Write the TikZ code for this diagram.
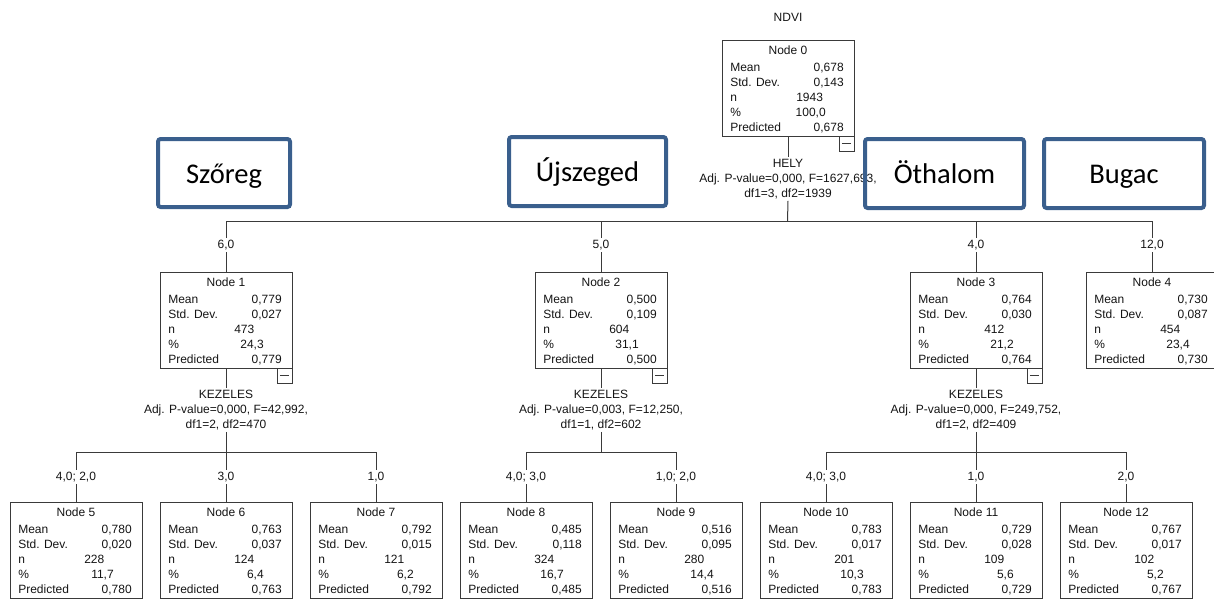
\documentclass[tikz,border=0pt]{standalone}
\usepackage{fontspec}
\setmainfont{Liberation Sans}
\newfontfamily\sitefont{Carlito}
\usetikzlibrary{calc}
\definecolor{siteblue}{HTML}{3A5F8D}
\definecolor{treeline}{HTML}{3A3A3A}

% one SPSS tree node: name, left, top, title, mean, sd, n, percent, predicted
\newcommand{\statnode}[9]{%
  \node[nodebox, anchor=north west] (#1) at (#2,#3) {};
  \node[celltext, anchor=base] (#1title) at ($(#1.north)+(0,14)$) {#4};
  \node[celltext, anchor=base west] (#1meanl) at ($(#1.north west)+(8,31)$) {Mean};
  \node[celltext, anchor=base east] (#1meanv) at ($(#1.north west)+(122,31)$) {#5};
  \node[celltext, anchor=base west] (#1sdl) at ($(#1.north west)+(8,46)$) {Std. Dev.};
  \node[celltext, anchor=base east] (#1sdv) at ($(#1.north west)+(122,46)$) {#6};
  \node[celltext, anchor=base west] (#1nl) at ($(#1.north west)+(8,61)$) {n};
  \node[celltext, anchor=base west] (#1nv) at ($(#1.north west)+(74,61)$) {#7};
  \node[celltext, anchor=base west] (#1pl) at ($(#1.north west)+(8,76)$) {\%};
  \node[celltext, anchor=base east] (#1pv) at ($(#1.north west)+(104,76)$) {#8};
  \node[celltext, anchor=base west] (#1predl) at ($(#1.north west)+(8,91)$) {Predicted};
  \node[celltext, anchor=base east] (#1predv) at ($(#1.north west)+(122,91)$) {#9};
}

\begin{document}
\begin{tikzpicture}[
    x=0.75pt, y=-0.75pt,
    nodebox/.style={draw=treeline, line width=0.75pt, minimum width=99pt,
      minimum height=72pt, inner sep=0pt, outer sep=0pt},
    celltext/.style={font=\fontsize{9}{11}\selectfont, text=black!92, inner sep=0pt},
    splittext/.style={font=\fontsize{9}{11}\selectfont, text=black!92, align=center, inner sep=1.5pt},
    catlabel/.style={font=\fontsize{9}{11}\selectfont, text=black!92, inner sep=1.5pt},
    collapse/.style={draw=treeline, line width=0.75pt, minimum size=11.25pt, inner sep=0pt,
      outer sep=0pt, anchor=north east,
      path picture={\draw[treeline, line width=0.75pt]
        ([xshift=2.2pt]path picture bounding box.west) -- ([xshift=-2.2pt]path picture bounding box.east);}},
    branch/.style={draw=treeline, line width=0.75pt},
    sitebox/.style={draw=siteblue, line width=3pt, rounded corners=2pt, inner sep=0pt,
      text height=19pt, text depth=4pt,
      font=\sitefont\fontsize{21.4}{24}\selectfont, text=black}
  ]

  \useasboundingbox (0,0) rectangle (1214,601);
  \clip (0,0) rectangle (1214,601);

  % ==========================================
  % ROOT: Node 0, split on HELY
  % ==========================================
  \node[celltext] (target) at (788,17) {NDVI};
  \statnode{n0}{722}{40}{Node 0}{0,678}{0,143}{1943}{100,0}{0,678}
  \node[collapse] (n0c) at (n0.south east) {};
  \node[splittext] (n0split) at ($(n0.south)+(0,43)$)
    {HELY\\Adj. P-value=0,000, F=1627,693,\\df1=3, df2=1939};
  \coordinate (n0bar) at (787.5,221);

  % ==========================================
  % LEVEL 1: sites
  % ==========================================
  \node[catlabel] (c1) at (226,245) {6,0};
  \node[catlabel] (c2) at (601,245) {5,0};
  \node[catlabel] (c3) at (976,245) {4,0};
  \node[catlabel] (c4) at (1152,245) {12,0};

  \statnode{n1}{160}{272}{Node 1}{0,779}{0,027}{473}{24,3}{0,779}
  \statnode{n2}{535}{272}{Node 2}{0,500}{0,109}{604}{31,1}{0,500}
  \statnode{n3}{910}{272}{Node 3}{0,764}{0,030}{412}{21,2}{0,764}
  \statnode{n4}{1086}{272}{Node 4}{0,730}{0,087}{454}{23,4}{0,730}
  \node[collapse] (n1c) at (n1.south east) {};
  \node[collapse] (n2c) at (n2.south east) {};
  \node[collapse] (n3c) at (n3.south east) {};

  \node[splittext] (n1split) at ($(n1.south)+(0,42)$)
    {KEZELES\\Adj. P-value=0,000, F=42,992,\\df1=2, df2=470};
  \node[splittext] (n2split) at ($(n2.south)+(0,42)$)
    {KEZELES\\Adj. P-value=0,003, F=12,250,\\df1=1, df2=602};
  \node[splittext] (n3split) at ($(n3.south)+(0,42)$)
    {KEZELES\\Adj. P-value=0,000, F=249,752,\\df1=2, df2=409};
  \coordinate (n1bar) at (226,452);
  \coordinate (n2bar) at (601,452);
  \coordinate (n3bar) at (976,452);

  % ==========================================
  % LEVEL 2: treatments
  % ==========================================
  \node[catlabel] (c5) at (76,477) {4,0; 2,0};
  \node[catlabel] (c6) at (226,477) {3,0};
  \node[catlabel] (c7) at (376,477) {1,0};
  \node[catlabel] (c8) at (526,477) {4,0; 3,0};
  \node[catlabel] (c9) at (676,477) {1,0; 2,0};
  \node[catlabel] (c10) at (826,477) {4,0; 3,0};
  \node[catlabel] (c11) at (976,477) {1,0};
  \node[catlabel] (c12) at (1126,477) {2,0};

  \statnode{n5}{10}{502}{Node 5}{0,780}{0,020}{228}{11,7}{0,780}
  \statnode{n6}{160}{502}{Node 6}{0,763}{0,037}{124}{6,4}{0,763}
  \statnode{n7}{310}{502}{Node 7}{0,792}{0,015}{121}{6,2}{0,792}
  \statnode{n8}{460}{502}{Node 8}{0,485}{0,118}{324}{16,7}{0,485}
  \statnode{n9}{610}{502}{Node 9}{0,516}{0,095}{280}{14,4}{0,516}
  \statnode{n10}{760}{502}{Node 10}{0,783}{0,017}{201}{10,3}{0,783}
  \statnode{n11}{910}{502}{Node 11}{0,729}{0,028}{109}{5,6}{0,729}
  \statnode{n12}{1060}{502}{Node 12}{0,767}{0,017}{102}{5,2}{0,767}

  % Branches
  \draw[branch] (n0.south) -- (n0split.north);
  \draw[branch] (n0split.south) -- (n0bar);
  \foreach \c/\n in {c1/n1, c2/n2, c3/n3, c4/n4} {
    \draw[branch] (n0bar) -| (\c.north);
    \draw[branch] (\c.south) -- (\n.north);
  }
  \foreach \p in {n1, n2, n3} {
    \draw[branch] (\p.south) -- (\p split.north);
    \draw[branch] (\p split.south) -- (\p bar);
  }
  \foreach \c/\n in {c5/n5, c6/n6, c7/n7} {
    \draw[branch] (n1bar) -| (\c.north);
    \draw[branch] (\c.south) -- (\n.north);
  }
  \foreach \c/\n in {c8/n8, c9/n9} {
    \draw[branch] (n2bar) -| (\c.north);
    \draw[branch] (\c.south) -- (\n.north);
  }
  \foreach \c/\n in {c10/n10, c11/n11, c12/n12} {
    \draw[branch] (n3bar) -| (\c.north);
    \draw[branch] (\c.south) -- (\n.north);
  }

  % ==========================================
  % Site boxes laid over the tree
  % ==========================================
  \node[sitebox, minimum width=99pt, minimum height=51pt] (szoreg) at (224,173) {Szőreg};
  \node[sitebox, minimum width=117.75pt, minimum height=51.75pt] (ujszeged) at (587.5,171.5) {Újszeged};
  \node[sitebox, minimum width=119.25pt, minimum height=51.75pt] (othalom) at (944.5,173.5) {Öthalom};
  \node[sitebox, minimum width=120pt, minimum height=51.75pt] (bugac) at (1124,173.5) {Bugac};

\end{tikzpicture}
\end{document}
